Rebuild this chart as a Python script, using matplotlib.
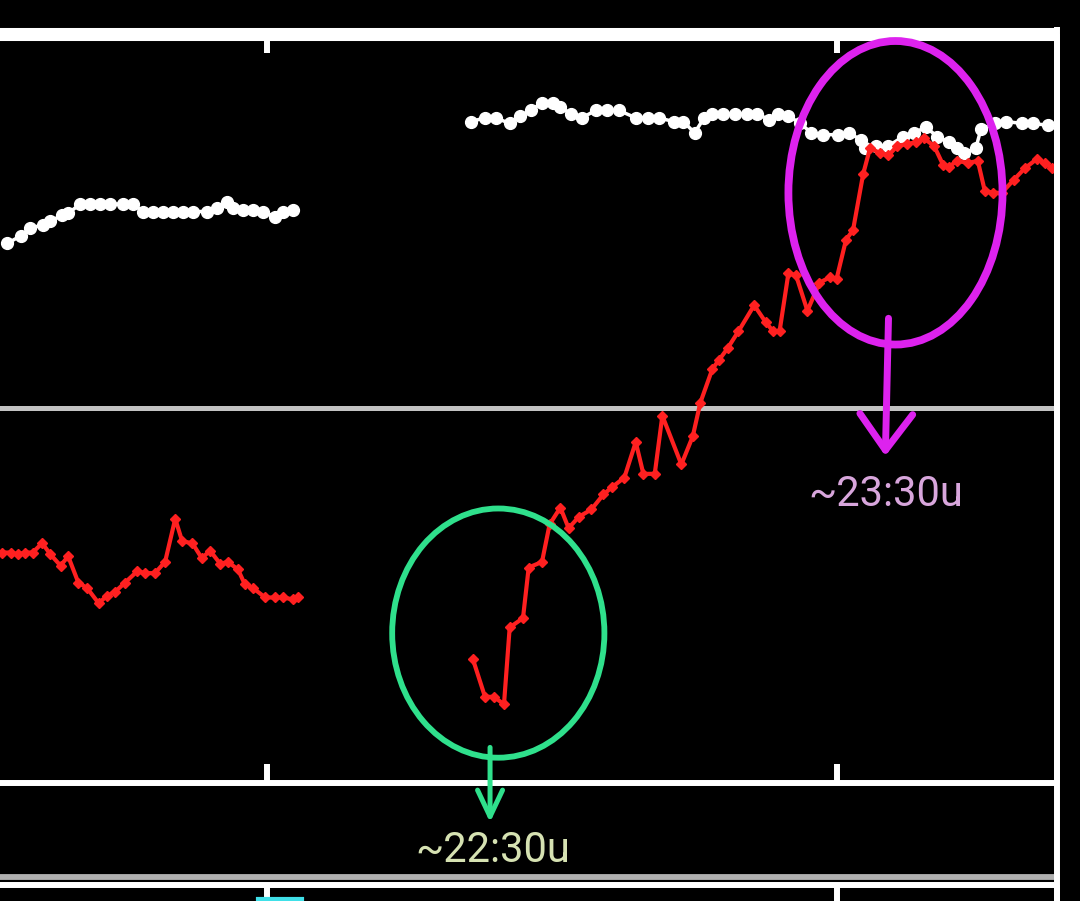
import matplotlib
matplotlib.use('Agg')
import matplotlib.pyplot as plt
from matplotlib.patches import Ellipse
from matplotlib.lines import Line2D

# time in minutes after 22:00, values on the shared y scale
white_t1 = [-41.0, -38.9, -37.4, -35.3, -34.2, -32.3, -31.4, -29.5, -27.9, -26.3, -24.8, -22.7,
            -21.1, -19.6, -18.0, -16.4, -14.8, -13.2, -11.7, -9.5, -7.9, -6.3, -5.4, -3.8,
            -2.2, -0.6, 1.3, 2.5, 4.1]
white_v1 = [68.8, 69.2, 69.6, 69.8, 70.0, 70.3, 70.4, 70.9, 70.9, 70.9, 70.9, 70.9,
            70.9, 70.5, 70.5, 70.5, 70.5, 70.5, 70.5, 70.5, 70.7, 71.0, 70.7, 70.6,
            70.6, 70.5, 70.2, 70.5, 70.6]

white_t2 = [32.2, 34.4, 36.1, 38.3, 40.0, 41.6, 43.4, 45.2, 46.3, 47.9, 49.7, 51.9, 53.6, 55.5,
            58.2, 60.1, 61.8, 64.2, 65.7, 67.5, 69.0, 70.3, 72.0, 73.9, 75.7, 77.4, 79.3, 80.6,
            82.3, 84.2, 85.9, 87.8, 90.2, 91.9, 93.8, 94.4, 96.2, 98.1, 100.4, 102.1, 104.0,
            105.8, 107.7, 108.9, 110.0, 111.9, 112.7, 114.9, 116.7, 119.2, 120.9, 123.3]
white_v2 = [75.3, 75.5, 75.5, 75.2, 75.6, 75.9, 76.3, 76.3, 76.1, 75.7, 75.5, 75.9, 75.9, 75.9,
            75.5, 75.5, 75.5, 75.3, 75.3, 74.7, 75.5, 75.7, 75.7, 75.7, 75.7, 75.7, 75.4, 75.7,
            75.6, 75.2, 74.7, 74.6, 74.6, 74.7, 74.3, 73.9, 74.0, 74.0, 74.5, 74.7, 75.0,
            74.5, 74.2, 73.9, 73.6, 73.9, 74.9, 75.2, 75.3, 75.2, 75.2, 75.1]

red_t1 = [-41.8, -40.5, -39.3, -38.2, -37.0, -35.5, -34.2, -32.6, -31.4, -29.8, -28.4, -26.6,
          -25.2, -24.0, -22.4, -20.5, -19.2, -17.7, -16.1, -14.5, -13.4, -11.8, -10.3, -9.0,
          -7.4, -6.2, -4.6, -3.5, -2.2, -0.3, 1.3, 2.5, 4.1, 4.9]
red_v1 = [52.3, 52.3, 52.2, 52.3, 52.3, 52.8, 52.2, 51.6, 52.1, 50.7, 50.4, 49.6,
          50.0, 50.2, 50.7, 51.3, 51.2, 51.2, 51.8, 54.1, 52.9, 52.8, 52.0, 52.4,
          51.7, 51.8, 51.4, 50.6, 50.4, 49.9, 49.9, 49.9, 49.8, 49.9]

red_t2 = [32.5, 34.4, 35.8, 37.4, 38.3, 40.4, 41.3, 43.4, 44.6, 46.3, 47.6, 49.2, 51.2, 53.1,
          54.5, 56.4, 58.2, 59.4, 61.2, 62.4, 65.4, 67.2, 68.4, 70.3, 71.4, 72.7, 74.4, 76.9,
          78.7, 79.9, 80.9, 82.3, 83.5, 85.3, 87.2, 88.9, 89.9, 91.4, 92.5, 94.1, 95.2, 96.8,
          98.1, 99.5, 101.0, 102.5, 103.7, 105.3, 106.7, 107.7, 108.9, 110.7, 112.2, 113.3,
          114.6, 116.0, 117.9, 119.6, 121.5, 122.8, 123.9]
red_v2 = [46.6, 44.6, 44.6, 44.2, 48.3, 48.8, 51.5, 51.8, 53.8, 54.7, 53.6, 54.2, 54.6, 55.4,
          55.8, 56.3, 58.2, 56.5, 56.5, 59.6, 57.0, 58.5, 60.3, 62.1, 62.6, 63.2, 64.1, 65.5,
          64.6, 64.1, 64.1, 67.2, 67.1, 65.2, 66.7, 67.0, 66.9, 69.0, 69.5, 72.5, 73.9, 73.6,
          73.5, 74.0, 74.1, 74.2, 74.4, 74.0, 73.0, 72.9, 73.2, 73.1, 73.2, 71.6,
          71.5, 71.5, 72.2, 72.8, 73.3, 73.1, 72.8]

cyan_t = [-1.4, 5.5]
cyan_v = [8.6, 8.6]

tick_t = [0, 90]
x_range = (-42.95, 124.7)

W, H = 1080, 901
fig = plt.figure(figsize=(W / 100, H / 100), dpi=100, facecolor='black')

# main panel (left edge just off the picture)
ax = fig.add_axes([-5 / W, 1 - 783 / H, 1062 / W, 749.5 / H])
ax.set_facecolor('black')
ax.set_xlim(*x_range)
ax.set_ylim(40, 80)
ax.set_xticks(tick_t)
ax.set_yticks([])
ax.tick_params(axis='x', direction='in', top=True, bottom=True, length=14, width=4.3,
               color='white', labelbottom=False, labeltop=False)
ax.spines['left'].set_visible(False)
ax.spines['top'].set_color('white')
ax.spines['top'].set_linewidth(9.4)
for s in ['right', 'bottom']:
    ax.spines[s].set_color('white')
    ax.spines[s].set_linewidth(4.3)
for s in ['top', 'right', 'bottom']:
    ax.spines[s].set_capstyle('butt')

ax.axhline(60, color='#c2c2c2', lw=3.6, zorder=1)

ax.plot(white_t1, white_v1, color='white', lw=2.5, marker='o', ms=8.5, zorder=3)
ax.plot(white_t2, white_v2, color='white', lw=2.5, marker='o', ms=8.5, zorder=3)
ax.plot(red_t1, red_v1, color='#ff2020', lw=3, marker='D', ms=5, zorder=4)
ax.plot(red_t2, red_v2, color='#ff2020', lw=3, marker='D', ms=5, zorder=4)

# hand drawn marks
ax.add_patch(Ellipse((36.5, 48.0), 33.5, 13.3, fill=False, ec='#2fe08c', lw=4.2, zorder=5))
ax.add_patch(Ellipse((99.2, 71.5), 33.8, 16.2, fill=False, ec='#dd22ee', lw=5.6, zorder=5))

ax.annotate('', xy=(35.2, 37.9), xytext=(35.2, 41.9), annotation_clip=False,
            arrowprops=dict(arrowstyle='->,head_length=0.95,head_width=0.45', color='#2fe08c',
                            lw=3.6, shrinkA=0, shrinkB=0, mutation_scale=20))
ax.annotate('', xy=(97.6, 57.45), xytext=(98.1, 64.8), annotation_clip=False,
            arrowprops=dict(arrowstyle='->,head_length=1.3,head_width=0.95', color='#dd22ee',
                            lw=5, shrinkA=0, shrinkB=0, mutation_scale=20))

ax.text(35.7, 36.4, '~22:30u', color='#d6e2b2', fontsize=30, family='Roboto',
        ha='center', va='center', clip_on=False)
ax.text(97.6, 55.4, '~23:30u', color='#d8a6dc', fontsize=30, family='Roboto',
        ha='center', va='center', clip_on=False)

# lower panel, mostly cut off
ax2 = fig.add_axes([-5 / W, -0.1, 1062 / W, 0.1 + 16.5 / H])
ax2.set_facecolor('black')
ax2.set_xlim(*x_range)
ax2.set_ylim(0, 10)
ax2.set_xticks(tick_t)
ax2.set_yticks([])
ax2.tick_params(axis='x', direction='in', top=True, bottom=False, length=14, width=4.3,
                color='white', labelbottom=False)
for s in ['left', 'bottom']:
    ax2.spines[s].set_visible(False)
for s in ['top', 'right']:
    ax2.spines[s].set_color('white')
    ax2.spines[s].set_linewidth(4.3)
    ax2.spines[s].set_capstyle('butt')
ax2.plot(cyan_t, cyan_v, color='#40e0e8', lw=3, zorder=3)

fig.add_artist(Line2D([0, 1057 / W], [1 - 877 / H] * 2, color='#b0b0b0', lw=4.2))
fig.add_artist(Line2D([1057 / W] * 2, [0, 1 - 27 / H], color='white', lw=4.3,
                      solid_capstyle='butt'))

fig.savefig('out.png', dpi=100, facecolor='black')
